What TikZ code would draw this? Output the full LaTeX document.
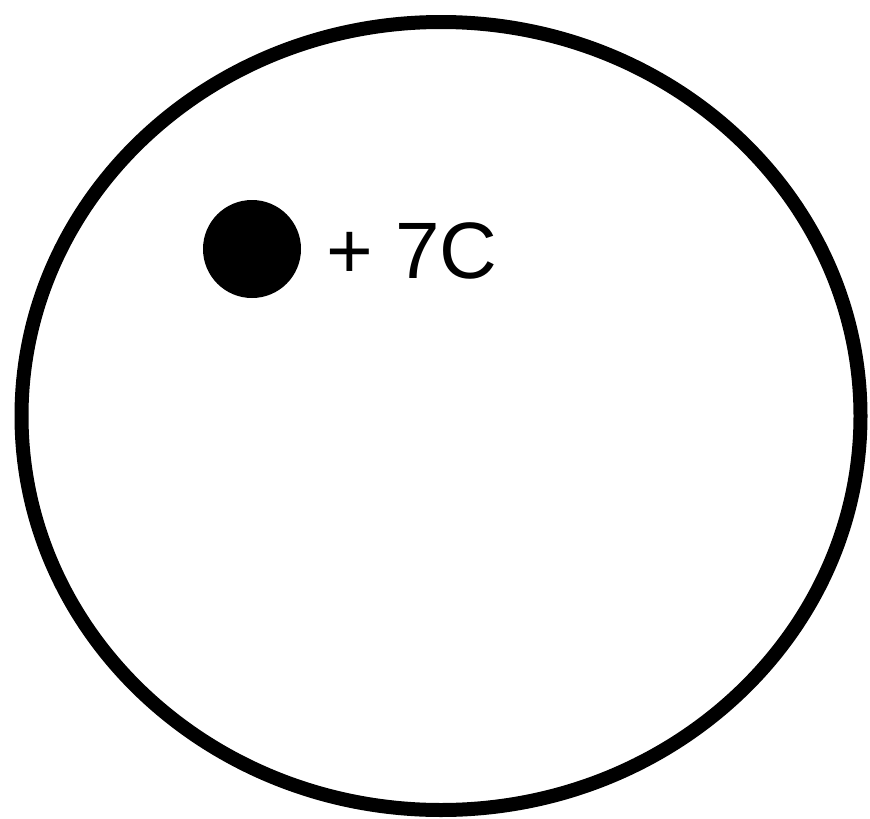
\documentclass[tikz,border=0pt]{standalone}
\usepackage{fontspec}
\setmainfont{Liberation Sans}
\usepackage{tikz}
\usetikzlibrary{shapes.geometric, positioning}

\begin{document}
\begin{tikzpicture}[
  x=1pt, y=-1pt,
  ring/.style={ellipse, draw=black, line width=14pt, inner sep=0pt, minimum width=839pt, minimum height=788pt},
  charge/.style={circle, fill=black, inner sep=0pt, minimum size=98pt},
  chargetext/.style={anchor=base west, inner sep=0pt, font=\fontsize{80}{90}\selectfont},
]
\useasboundingbox (0,0) rectangle (870,819);
\node[ring] (boundary) at (441,416) {};
\node[charge] (q) at (252,249) {};
\node[chargetext] (qtext) at (326,278) {+ 7C};
\end{tikzpicture}
\end{document}
